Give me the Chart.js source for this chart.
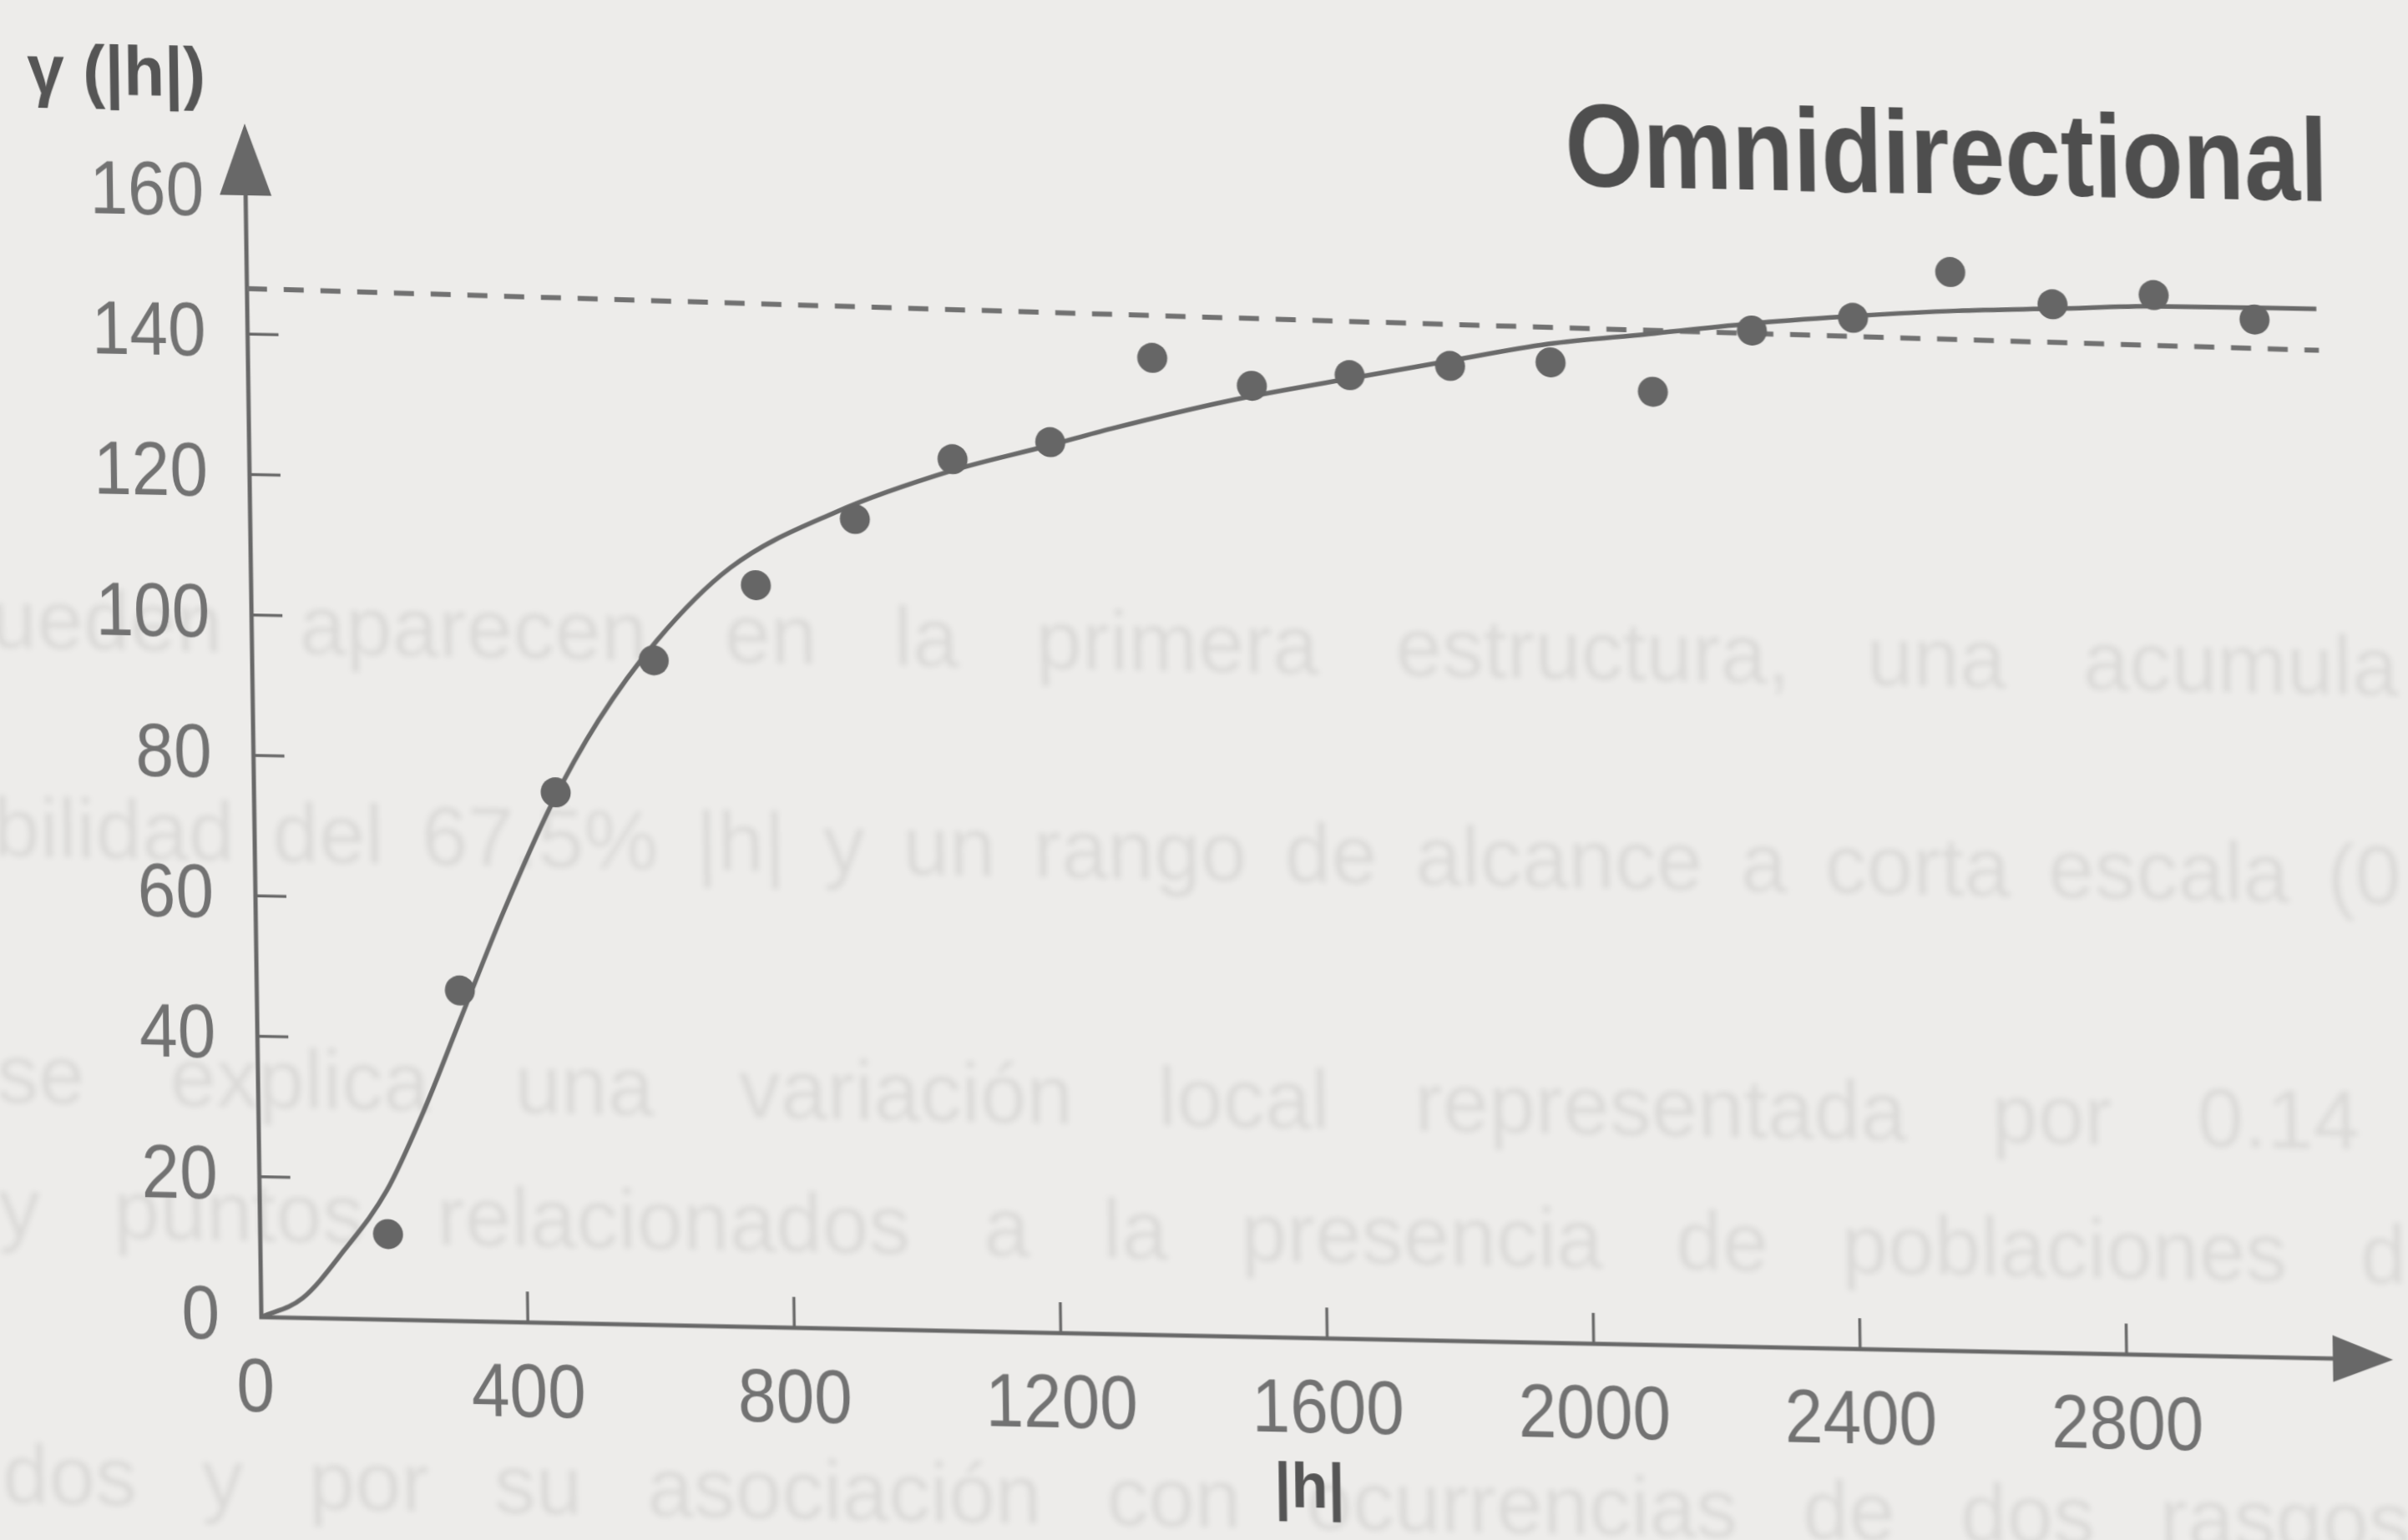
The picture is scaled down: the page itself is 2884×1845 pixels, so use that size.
<!DOCTYPE html>
<html>
<head>
<meta charset="utf-8">
<title>Omnidirectional variogram</title>
<script src="https://cdn.jsdelivr.net/npm/chart.js@4.4.1/dist/chart.umd.min.js"></script>
<style>
  html, body { margin: 0; padding: 0; background: #edecea; overflow: hidden; }
  /* the photo of the page is slightly sheared, so the whole page is too */
  #wrap { position: relative; width: 2884px; height: 1845px; transform-origin: 313px 1578px; transform: matrix(1, 0.02, 0.014, 1, 0, 0); }
  #variogram { position: absolute; left: 0; top: 0; display: block; }
  /* text from the other side of the page shows through faintly */
  .ghost { position: absolute; left: 0; width: 2884px; white-space: nowrap; font: 100px 'Liberation Sans', Arial, sans-serif;
           color: rgba(0, 0, 0, 0.075); filter: blur(3px); text-align: justify; text-align-last: justify; }
</style>
</head>
<body>
<div id="wrap">
  <div class="ghost" style="top: 690px;">ueden aparecen en la primera estructura, una acumula</div>
  <div class="ghost" style="top: 940px;">bilidad del 67.5% |h| y un rango de alcance a corta escala (0</div>
  <div class="ghost" style="top: 1235px; width: 2830px;">se explica una variación local representada por 0.14</div>
  <div class="ghost" style="top: 1395px;">y puntos relacionados a la presencia de poblaciones d</div>
  <div class="ghost" style="top: 1715px;">dos y por su asociación con ocurrencias de dos rasgos</div>
  <canvas id="variogram" width="2884" height="1845"></canvas>
</div>
<script>
// experimental variogram (dots)
const lagDistance = [192, 305, 453, 603, 758, 908, 1056, 1203, 1358, 1507, 1654, 1805, 1956, 2109, 2259, 2411, 2558, 2711, 2863, 3014];
const experimentalGamma = [12.2, 47.1, 75.6, 94.7, 105.7, 115.4, 124.2, 126.9, 139.2, 135.5, 137.3, 138.9, 139.7, 135.8, 144.8, 146.9, 153.7, 149.4, 151.0, 147.8];

// fitted model (solid line)
const modelLag = [0, 62, 126, 191, 248, 306, 372, 445, 519, 608, 720, 879, 1056, 1200, 1295, 1472, 1653, 1803, 1952, 2102, 2268, 2418, 2567, 2717, 2866, 3107];
const modelGamma = [0, 2.8, 9.8, 18.4, 29.8, 43.2, 58.4, 73.6, 86.0, 97.5, 108.1, 116.3, 122.6, 126.4, 129.0, 133.3, 136.8, 139.6, 142.3, 144.0, 145.9, 147.2, 148.2, 148.8, 149.4, 149.5];

// sill (dashed line)
const sillLag = [0, 3110];
const sillGamma = [146.5, 143.6];

// axes
const xTicks = [0, 400, 800, 1200, 1600, 2000, 2400, 2800];
const yTicks = [0, 20, 40, 60, 80, 100, 120, 140, 160];
const xTickLabels = ['0', '400', '800', '1200', '1600', '2000', '2400', '2800'];
const yTickLabels = ['0', '20', '40', '60', '80', '100', '120', '140', '160'];
const xAxisMax = 3200;
const yAxisMax = 170;

const chartTitle = 'Omnidirectional';
const yAxisTitle = 'γ (|h|)';
const xAxisTitle = '|h|';

const ink = '#686868';
const fontFamily = "'Liberation Sans', Arial, sans-serif";

function toPoints(xs, ys) {
  return xs.map((x, i) => ({ x: x, y: ys[i] }));
}

// text in the photo is a bit taller than the font, so stretch it
function stretchedText(ctx, str, x, y, font, color, align, baseline, sy) {
  ctx.save();
  ctx.translate(x, y);
  ctx.scale(1, sy);
  ctx.font = font;
  ctx.fillStyle = color;
  ctx.textAlign = align;
  ctx.textBaseline = baseline;
  ctx.fillText(str, 0, 0);
  ctx.restore();
}

const axesPlugin = {
  id: 'axesPlugin',
  beforeDatasetsDraw(chart) {
    const ctx = chart.ctx;
    const x = chart.scales.x, y = chart.scales.y;
    const x0 = x.getPixelForValue(0);
    const y0 = y.getPixelForValue(0);
    const xEnd = x.getPixelForValue(xAxisMax);
    const yEnd = y.getPixelForValue(yAxisMax);

    ctx.save();
    ctx.strokeStyle = ink;
    ctx.fillStyle = ink;
    ctx.lineWidth = 5;
    ctx.beginPath();
    ctx.moveTo(x0, yEnd + 70);
    ctx.lineTo(x0, y0);
    ctx.lineTo(xEnd - 60, y0);
    ctx.stroke();

    // arrow heads
    ctx.beginPath();
    ctx.moveTo(x0, yEnd);
    ctx.lineTo(x0 - 31, yEnd + 86);
    ctx.lineTo(x0 + 31, yEnd + 86);
    ctx.closePath();
    ctx.fill();
    ctx.beginPath();
    ctx.moveTo(xEnd, y0);
    ctx.lineTo(xEnd - 72, y0 - 28);
    ctx.lineTo(xEnd - 72, y0 + 28);
    ctx.closePath();
    ctx.fill();

    // tick marks point inwards
    ctx.lineWidth = 3.5;
    xTicks.forEach(v => {
      if (v === 0) return;
      const px = x.getPixelForValue(v);
      ctx.beginPath();
      ctx.moveTo(px, y0);
      ctx.lineTo(px, y0 - 37);
      ctx.stroke();
    });
    yTicks.forEach(v => {
      if (v === 0 || v === 160) return;
      const py = y.getPixelForValue(v);
      ctx.beginPath();
      ctx.moveTo(x0, py);
      ctx.lineTo(x0 + 37, py);
      ctx.stroke();
    });
    ctx.restore();
  },
  afterDraw(chart) {
    const ctx = chart.ctx;
    const x = chart.scales.x, y = chart.scales.y;
    const x0 = x.getPixelForValue(0);
    const y0 = y.getPixelForValue(0);
    const tickFont = '82px ' + fontFamily;

    yTicks.forEach((v, i) => {
      stretchedText(ctx, yTickLabels[i], x0 - 50, y.getPixelForValue(v) + 2, tickFont, '#727272', 'right', 'middle', 1.1);
    });
    xTicks.forEach((v, i) => {
      const px = x.getPixelForValue(v) - (v === 0 ? 8 : 0);
      stretchedText(ctx, xTickLabels[i], px, y0 + 88, tickFont, '#727272', 'center', 'middle', 1.1);
    });

    stretchedText(ctx, chartTitle, 2808, 191, 'bold 120px ' + fontFamily, '#4e4e4e', 'right', 'alphabetic', 1.18);
    stretchedText(ctx, yAxisTitle, 160, 94, 'bold 80px ' + fontFamily, '#555555', 'center', 'middle', 1.05);
    stretchedText(ctx, xAxisTitle, 1566, 1760, 'bold 72px ' + fontFamily, '#555555', 'center', 'middle', 1.05);
  }
};

new Chart(document.getElementById('variogram'), {
  type: 'scatter',
  data: {
    datasets: [{
      label: 'Experimental',
      data: toPoints(lagDistance, experimentalGamma),
      backgroundColor: '#666666',
      borderWidth: 0,
      pointRadius: 18,
      showLine: false,
      order: 0
    }, {
      label: 'Model',
      data: toPoints(modelLag, modelGamma),
      borderColor: '#6a6a6a',
      borderWidth: 5.5,
      pointRadius: 0,
      showLine: true,
      cubicInterpolationMode: 'monotone',
      order: 1
    }, {
      label: 'Sill',
      data: toPoints(sillLag, sillGamma),
      borderColor: '#717171',
      borderWidth: 6,
      borderDash: [24, 20],
      pointRadius: 0,
      showLine: true,
      order: 2
    }]
  },
  options: {
    responsive: false,
    animation: false,
    layout: { padding: { left: 313, right: 2, top: 148, bottom: 267 } },
    plugins: {
      legend: { display: false },
      title: { display: false },
      tooltip: { enabled: false }
    },
    scales: {
      x: { type: 'linear', display: false, min: 0, max: xAxisMax },
      y: { type: 'linear', display: false, min: 0, max: yAxisMax }
    }
  },
  plugins: [axesPlugin]
});
</script>
</body>
</html>
